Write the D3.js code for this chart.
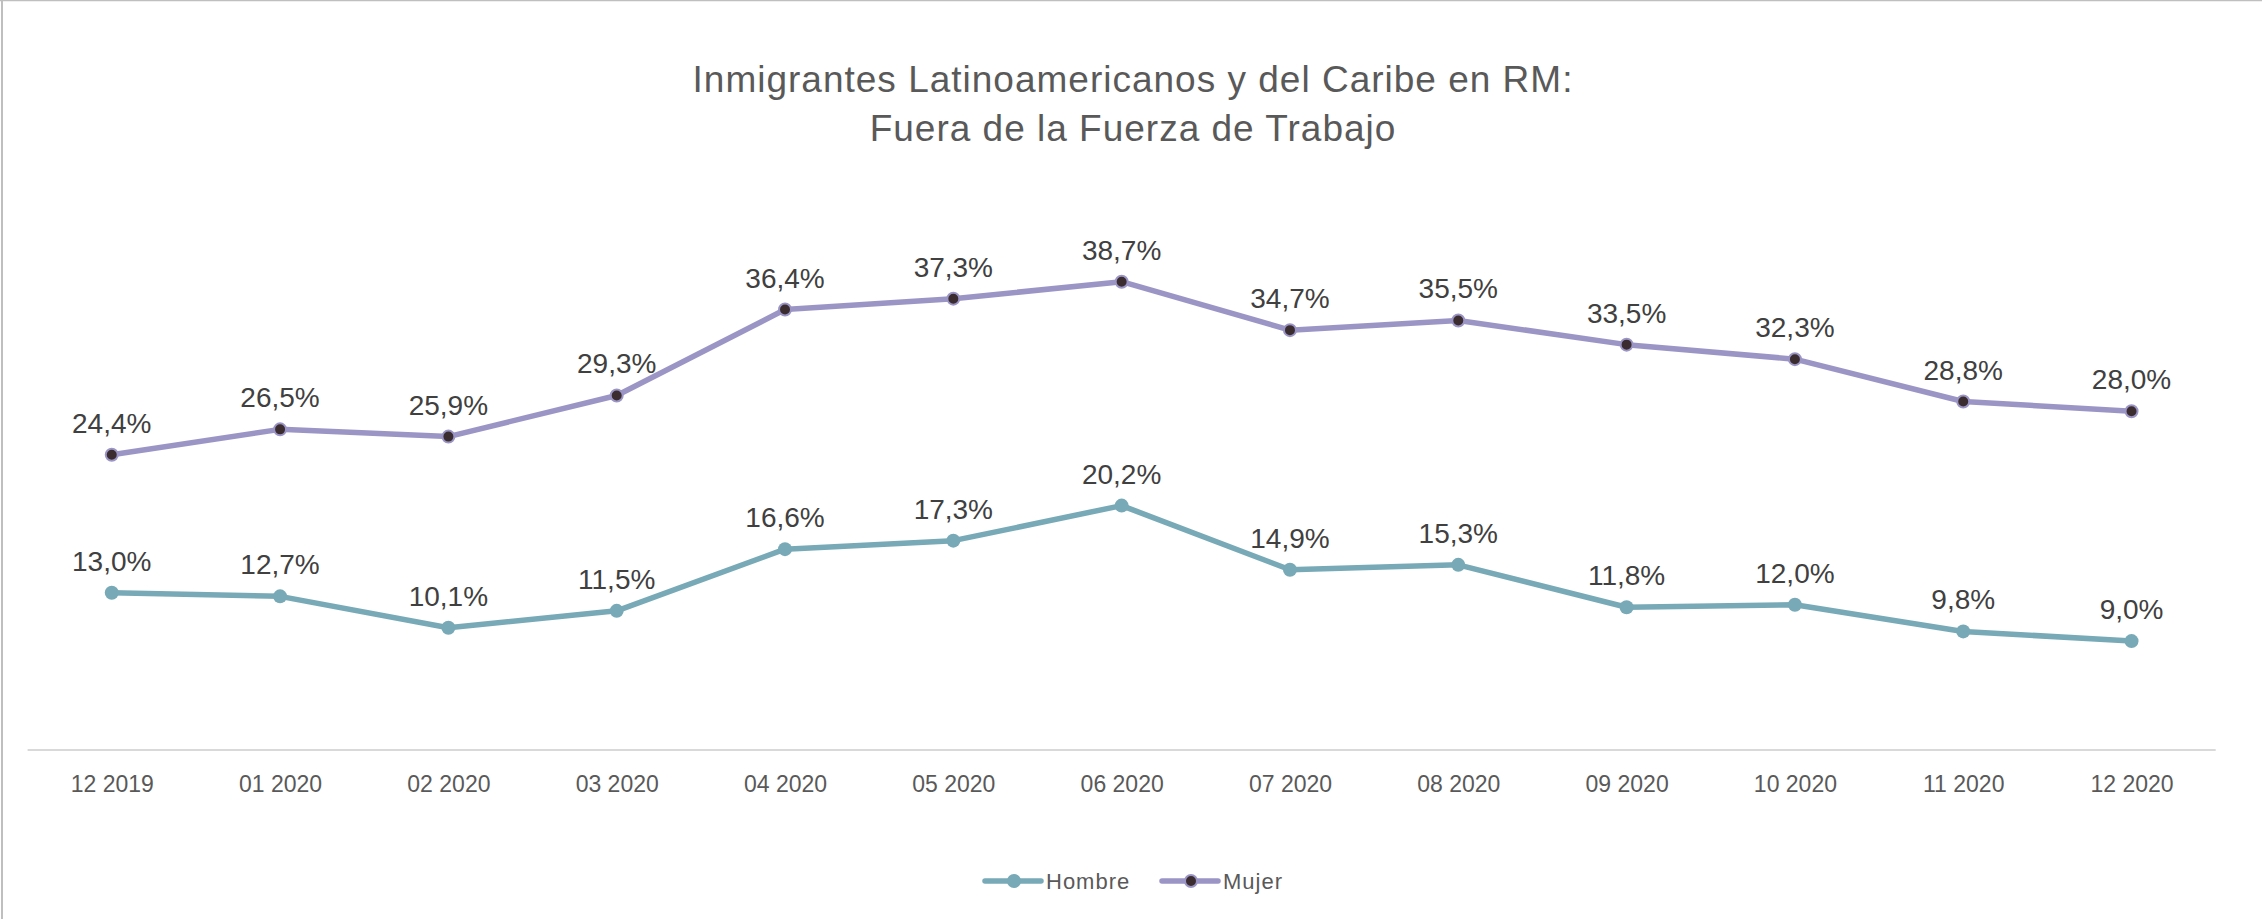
<!DOCTYPE html>
<html>
<head>
<meta charset="utf-8">
<script src="https://cdn.jsdelivr.net/npm/d3@7"></script>
<style>
  body { margin: 0; background: #fff; }
  svg { display: block; font-family: 'Liberation Sans', Arial, sans-serif; }
</style>
</head>
<body>
<div id="chart"></div>
<script>
const months = ['12 2019', '01 2020', '02 2020', '03 2020', '04 2020', '05 2020', '06 2020',
  '07 2020', '08 2020', '09 2020', '10 2020', '11 2020', '12 2020']
const hombre = [13.0, 12.7, 10.1, 11.5, 16.6, 17.3, 20.2, 14.9, 15.3, 11.8, 12.0, 9.8, 9.0]
const mujer = [24.4, 26.5, 25.9, 29.3, 36.4, 37.3, 38.7, 34.7, 35.5, 33.5, 32.3, 28.8, 28.0]
const seriesNames = ['Hombre', 'Mujer']
const titleLines = ['Inmigrantes Latinoamericanos y del Caribe en RM:', 'Fuera de la Fuerza de Trabajo']

const width = 2262
const height = 919

const svg = d3
  .select('#chart')
  .append('svg')
  .attr('width', width)
  .attr('height', height)

// border (top and left only, like the cropped frame)
svg.append('line')
  .attr('x1', 0).attr('x2', width).attr('y1', 0.5).attr('y2', 0.5)
  .attr('stroke', '#bfbfbf').attr('stroke-width', 1.5)
svg.append('line')
  .attr('x1', 2).attr('x2', 2).attr('y1', 0).attr('y2', height)
  .attr('stroke', '#bfbfbf').attr('stroke-width', 2)

const xScale = d3.scalePoint()
  .domain(months)
  .range([27.6, 2215.7])
  .padding(0.5)

const yScale = d3.scaleLinear()
  .domain([0, 45])
  .range([750, 205.5])

const colors = { Hombre: '#78a9b7', Mujer: '#9b95c6' }

// title
svg.selectAll('.title')
  .data(titleLines)
  .enter()
  .append('text')
  .attr('class', 'title')
  .attr('x', 1133)
  .attr('y', (d, i) => 92 + i * 49)
  .attr('text-anchor', 'middle')
  .attr('font-size', 37)
  .attr('letter-spacing', '1px')
  .attr('fill', '#595959')
  .text(d => d)

// x axis
const xAxis = svg.append('g')
  .attr('transform', 'translate(0,750)')
  .call(d3.axisBottom(xScale).tickSize(0).tickPadding(26))
xAxis.select('.domain')
  .attr('d', 'M27.6,0H2215.7')
  .attr('stroke', '#d9d9d9')
  .attr('stroke-width', 2)
xAxis.selectAll('text')
  .attr('font-size', 23)
  .attr('font-family', "'Liberation Sans', Arial, sans-serif")
  .attr('fill', '#595959')
  .attr('dy', '0.71em')

const series = [
  { name: 'Hombre', values: hombre },
  { name: 'Mujer', values: mujer }
]

const line = d3.line()
  .x((d, i) => xScale(months[i]))
  .y(d => yScale(d))

series.forEach(function(s) {
  const g = svg.append('g').attr('class', 'series ' + s.name)

  g.append('path')
    .datum(s.values)
    .attr('d', line)
    .attr('fill', 'none')
    .attr('stroke', colors[s.name])
    .attr('stroke-width', 5.5)
    .attr('stroke-linejoin', 'round')

  g.selectAll('circle')
    .data(s.values)
    .enter()
    .append('circle')
    .attr('cx', (d, i) => xScale(months[i]))
    .attr('cy', d => yScale(d))
    .attr('r', s.name === 'Mujer' ? 6 : 7)
    .attr('fill', s.name === 'Mujer' ? '#3b2d2f' : colors[s.name])
    .attr('stroke', colors[s.name])
    .attr('stroke-width', s.name === 'Mujer' ? 2 : 0)

  g.selectAll('.label')
    .data(s.values)
    .enter()
    .append('text')
    .attr('class', 'label')
    .attr('x', (d, i) => xScale(months[i]))
    .attr('y', d => yScale(d) - 22)
    .attr('text-anchor', 'middle')
    .attr('font-size', 28)
    .attr('fill', '#404040')
    .text(d => d.toFixed(1).replace('.', ',') + '%')
})

// legend
const legendX = { Hombre: 985, Mujer: 1162 }
const legend = svg.selectAll('.legend')
  .data(seriesNames)
  .enter()
  .append('g')
  .attr('class', 'legend')
  .attr('transform', d => `translate(${legendX[d]},881)`)

legend.append('line')
  .attr('x1', 0).attr('x2', 56)
  .attr('stroke', d => colors[d])
  .attr('stroke-width', 5.5)
  .attr('stroke-linecap', 'round')

legend.append('circle')
  .attr('cx', 29)
  .attr('r', d => d === 'Mujer' ? 6 : 7)
  .attr('fill', d => d === 'Mujer' ? '#3b2d2f' : colors[d])
  .attr('stroke', d => colors[d])
  .attr('stroke-width', d => d === 'Mujer' ? 2 : 0)

legend.append('text')
  .attr('x', 61)
  .attr('dy', '0.36em')
  .attr('font-size', 22)
  .attr('letter-spacing', '1px')
  .attr('fill', '#595959')
  .text(d => d)
</script>
</body>
</html>
